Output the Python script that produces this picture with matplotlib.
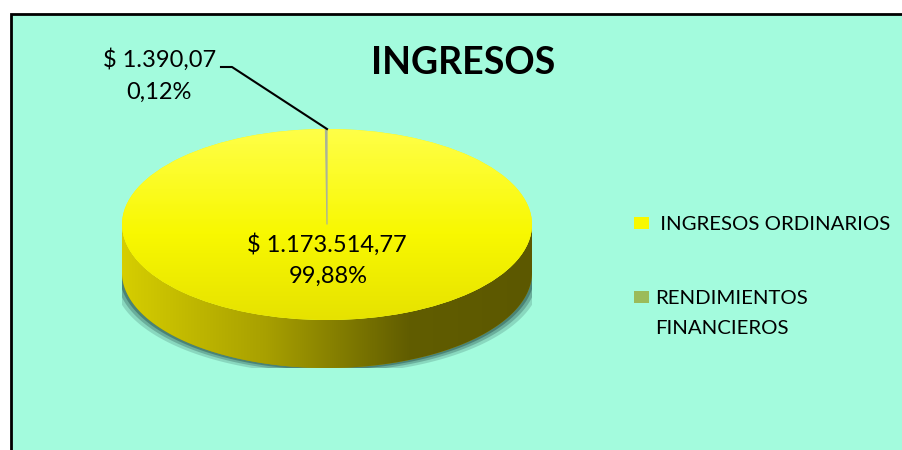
import matplotlib.pyplot as plt
import numpy as np
from matplotlib.patches import Rectangle, Polygon
from matplotlib.colors import LinearSegmentedColormap

plt.rcParams['font.family'] = ['Lato', 'DejaVu Sans']

categories = [' INGRESOS ORDINARIOS', 'RENDIMIENTOS\nFINANCIEROS']
values = [1173514.77, 1390.07]
colors = ['#f8f800', '#9bbb59']
title = 'INGRESOS'


def fmt_money(v):
    s = f"{v:,.2f}".replace(',', '#').replace('.', ',').replace('#', '.')
    return '$ ' + s


def fmt_pct(v, total):
    return f"{v / total * 100:.2f}".replace('.', ',') + '%'


total = sum(values)

fig = plt.figure(figsize=(9.02, 4.5), dpi=100)
fig.patch.set_facecolor('white')
W, H = 902, 450

# background axes in pixel coordinates
bg = fig.add_axes([0, 0, 1, 1])
bg.set_xlim(0, W)
bg.set_ylim(H, 0)
bg.axis('off')
bg.add_patch(Rectangle((11, 14), 900, 445, facecolor='#a3fbdd',
                       edgecolor='black', linewidth=2, zorder=0))

# pie axes: top face spans x 122..532, y 129..320, side goes down to 368
depth = 48 / 95.5
ax = fig.add_axes([122 / W, (H - 368) / H, 410 / W, 239 / H])
wedges, _ = ax.pie(values, colors=colors, startangle=90, counterclock=False,
                   radius=1, center=(0, 0), wedgeprops=dict(linewidth=0))
ax.set_aspect('auto')
ax.axis('off')
for w in wedges:
    w.set_zorder(3)
wedges[1].set_edgecolor('#aab39a')
wedges[1].set_linewidth(0.9)
wedges[1].set_zorder(5)

t = np.linspace(np.pi, 2 * np.pi, 200)
top_edge = np.column_stack([np.cos(t), np.sin(t)])
bot_edge = np.column_stack([np.cos(t[::-1]), np.sin(t[::-1]) - depth])
side_pts = np.vstack([top_edge, bot_edge])

# soft shadow round the side
for k, a in [(0.04, 0.2), (0.025, 0.3), (0.012, 0.45)]:
    sh = Polygon(np.column_stack([side_pts[:, 0] * (1 + k), side_pts[:, 1] - k * 1.6]),
                 closed=True, facecolor='#25504a', edgecolor='none', alpha=a, zorder=1)
    ax.add_patch(sh)

side = Polygon(side_pts, closed=True, facecolor='#a09a00', edgecolor='none', zorder=2)
ax.add_patch(side)
side_cmap = LinearSegmentedColormap.from_list(
    'side', [(0, '#d6ce00'), (0.35, '#a8a000'), (0.7, '#615d00'), (1, '#5c5800')])
grad = np.linspace(0, 1, 256).reshape(1, -1)
im = ax.imshow(grad, cmap=side_cmap, extent=(-1, 1, -1 - depth, 0), aspect='auto', zorder=2.5)
im.set_clip_path(side)

top_cmap = LinearSegmentedColormap.from_list(
    'top', [(0, '#e6e200'), (0.45, '#f8f800'), (1, '#ffff48')])
vgrad = np.linspace(0, 1, 256).reshape(-1, 1)
im2 = ax.imshow(vgrad, cmap=top_cmap, extent=(-1, 1, -1, 1), origin='lower',
                aspect='auto', zorder=4)
im2.set_clip_path(wedges[0])
ax.set_xlim(-1, 1)
ax.set_ylim(-1 - depth, 1)

# overlay axes for texts, above the pie
fg = fig.add_axes([0, 0, 1, 1])
fg.set_xlim(0, W)
fg.set_ylim(H, 0)
fg.axis('off')
fg.patch.set_alpha(0)

fg.text(463, 74, title, fontsize=27, fontweight='bold', ha='center', va='baseline')

big = [fmt_money(values[0]), fmt_pct(values[0], total)]
fg.text(327, 252, big[0], fontsize=17, ha='center', va='baseline')
fg.text(328, 283, big[1], fontsize=17, ha='center', va='baseline')
small = [fmt_money(values[1]), fmt_pct(values[1], total)]
fg.text(160, 67, small[0], fontsize=17, ha='center', va='baseline')
fg.text(159, 99, small[1], fontsize=17, ha='center', va='baseline')
fg.plot([221, 232, 327], [67, 67, 129], color='black', linewidth=1.5)

# legend
legend_y = [229, 303]
for name, c, yb in zip(categories, colors, legend_y):
    fg.add_patch(Rectangle((634, yb - 12), 15, 12, facecolor=c, edgecolor='none'))
    for i, line in enumerate(name.split('\n')):
        fg.text(655, yb + 1 + i * 30, line, fontsize=14.7, ha='left', va='baseline')

fig.savefig('out.png', dpi=100)
